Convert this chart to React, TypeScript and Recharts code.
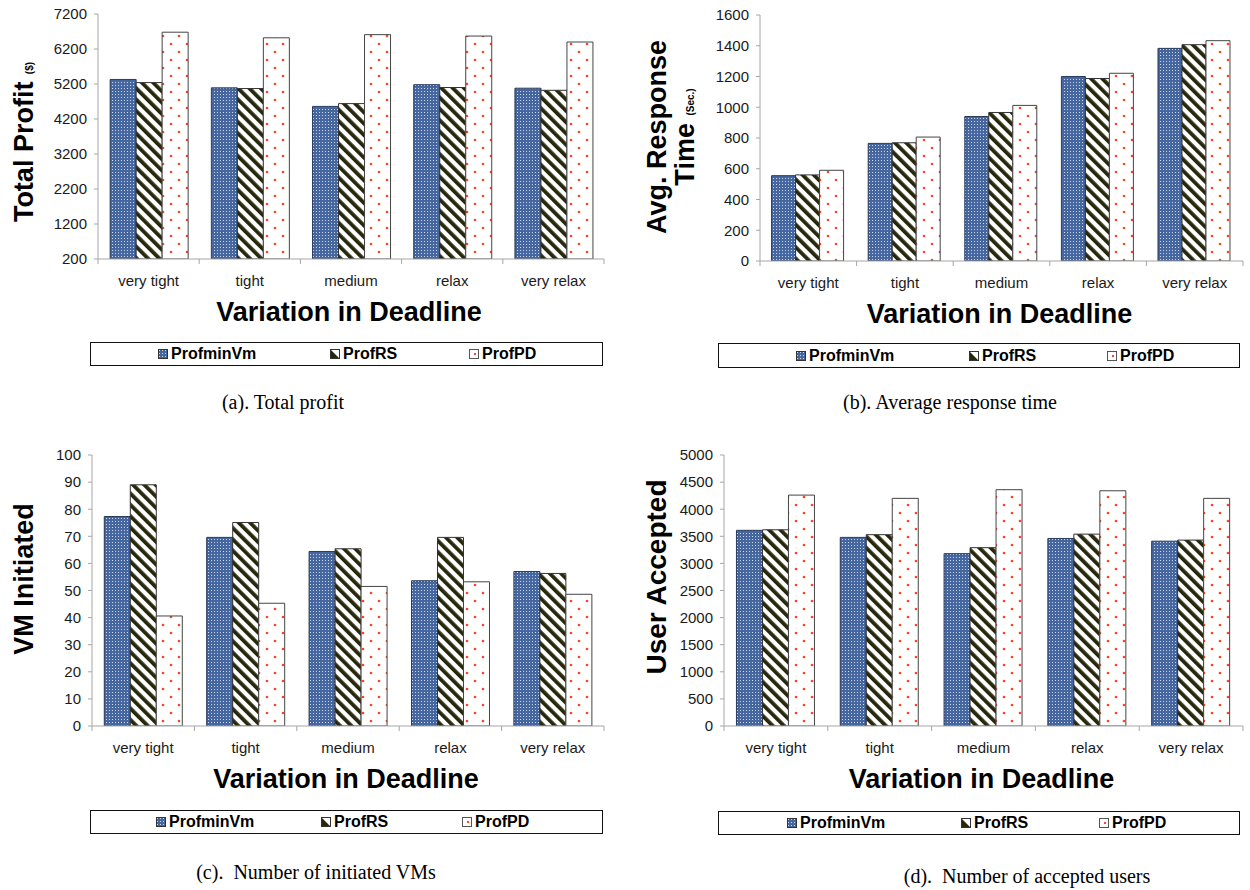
import React from "react";
import { BarChart, Bar, XAxis, YAxis, Label } from "recharts";

const categories = ["very tight", "tight", "medium", "relax", "very relax"];
const seriesNames = ["ProfminVm", "ProfRS", "ProfPD"];

// (a) total profit
const profitMinVm = [5330, 5090, 4560, 5180, 5080];
const profitRS = [5240, 5070, 4640, 5100, 5020];
const profitPD = [6680, 6520, 6610, 6570, 6400];
const profitTicks = [200, 1200, 2200, 3200, 4200, 5200, 6200, 7200];

// (b) avg response time
const respMinVm = [555, 765, 940, 1200, 1383];
const respRS = [560, 769, 966, 1187, 1407];
const respPD = [590, 806, 1012, 1221, 1433];
const respTicks = [0, 200, 400, 600, 800, 1000, 1200, 1400, 1600];

// (c) VMs initiated
const vmMinVm = [77.3, 69.6, 64.4, 53.6, 57.0];
const vmRS = [89.0, 75.1, 65.4, 69.6, 56.3];
const vmPD = [40.6, 45.3, 51.5, 53.2, 48.6];
const vmTicks = [0, 10, 20, 30, 40, 50, 60, 70, 80, 90, 100];

// (d) users accepted
const userMinVm = [3610, 3480, 3180, 3460, 3410];
const userRS = [3620, 3530, 3290, 3540, 3430];
const userPD = [4260, 4200, 4360, 4340, 4200];
const userTicks = [0, 500, 1000, 1500, 2000, 2500, 3000, 3500, 4000, 4500, 5000];

const SANS = "'Liberation Sans', Arial, sans-serif";
const SERIF = "'Liberation Serif', 'Times New Roman', serif";
const AXIS = "#a6a6a6";

type Rect = { l: number; t: number; r: number; b: number };
type TitleLine = { x: number; main: string; small?: string };

type PanelCfg = {
  id: string;
  x0: number;
  y0: number;
  w: number;
  h: number;
  plot: Rect;
  series: number[][];
  ticks: number[];
  title: { cy: number; size: number; lines: TitleLine[] };
  legend: Rect;
  legendOffsets: number[];
  caption: string;
  capX: number;
  capY: number;
};

const panels: PanelCfg[] = [
  {
    id: "pa", x0: 0, y0: 0, w: 625, h: 335,
    plot: { l: 98, t: 14, r: 604, b: 259 },
    series: [profitMinVm, profitRS, profitPD], ticks: profitTicks,
    title: { cy: 142, size: 27, lines: [{ x: 33, main: "Total Profit ", small: "($)" }] },
    legend: { l: 90, t: 342, r: 603, b: 366 }, legendOffsets: [69, 241, 380],
    caption: "(a). Total profit", capX: 283, capY: 403,
  },
  {
    id: "pb", x0: 625, y0: 0, w: 625, h: 335,
    plot: { l: 760, t: 15, r: 1243, b: 261 },
    series: [respMinVm, respRS, respPD], ticks: respTicks,
    title: {
      cy: 137, size: 27,
      lines: [
        { x: 666, main: "Avg. Response" },
        { x: 694, main: "Time ", small: "(Sec.)" },
      ],
    },
    legend: { l: 718, t: 343, r: 1240, b: 368 }, legendOffsets: [79, 252, 390],
    caption: "(b). Average response time", capX: 950, capY: 403,
  },
  {
    id: "pc", x0: 0, y0: 445, w: 625, h: 355,
    plot: { l: 92, t: 455, r: 604, b: 726 },
    series: [vmMinVm, vmRS, vmPD], ticks: vmTicks,
    title: { cy: 579, size: 27, lines: [{ x: 33, main: "VM Initiated" }] },
    legend: { l: 90, t: 810, r: 603, b: 834 }, legendOffsets: [67, 232, 373],
    caption: "(c).  Number of initiated VMs", capX: 316, capY: 873,
  },
  {
    id: "pd", x0: 625, y0: 445, w: 625, h: 355,
    plot: { l: 724, t: 455, r: 1243, b: 726 },
    series: [userMinVm, userRS, userPD], ticks: userTicks,
    title: { cy: 577, size: 28, lines: [{ x: 666, main: "User Accepted" }] },
    legend: { l: 718, t: 811, r: 1240, b: 835 }, legendOffsets: [70, 244, 382],
    caption: "(d).  Number of accepted users", capX: 1027, capY: 877,
  },
];

function Patterns({ id }: { id: string }) {
  return (
    <defs>
      <pattern id={`${id}-blue`} width={3} height={3} patternUnits="userSpaceOnUse">
        <rect width={3} height={3} fill="#45669f" />
        <rect x={1} y={1} width={1} height={1} fill="#c9d6ec" />
      </pattern>
      <pattern id={`${id}-rs`} width={8} height={8} patternUnits="userSpaceOnUse" patternTransform="rotate(-45)">
        <rect width={8} height={8} fill="#ffffff" />
        <rect width={3.8} height={8} fill="#27270c" />
      </pattern>
      <pattern id={`${id}-pd`} width={16} height={16} patternUnits="userSpaceOnUse">
        <rect width={16} height={16} fill="#ffffff" />
        <circle cx={3} cy={4} r={1.35} fill="#ff4426" />
        <circle cx={11} cy={12} r={1.35} fill="#ff4426" />
      </pattern>
    </defs>
  );
}

function Swatch({ i }: { i: number }) {
  if (i === 0) {
    return (
      <svg width={10} height={10} style={{ marginRight: 3 }}>
        <rect x={0.5} y={0.5} width={9} height={9} fill="url(#pa-blue)" stroke="#333" />
      </svg>
    );
  }
  if (i === 1) {
    return (
      <svg width={10} height={10} style={{ marginRight: 3 }}>
        <rect x={0.5} y={0.5} width={9} height={9} fill="#fff" stroke="#333" />
        <path d="M1 1 L9 9 L1 9 Z" fill="#27270c" />
      </svg>
    );
  }
  return (
    <svg width={10} height={10} style={{ marginRight: 3 }}>
      <rect x={0.5} y={0.5} width={9} height={9} fill="#fff" stroke="#555" />
      <rect x={5} y={4} width={2} height={2} fill="#ff4426" />
    </svg>
  );
}

function Panel({ cfg }: { cfg: PanelCfg }) {
  const { id, x0, y0, w, h, plot } = cfg;
  const data = categories.map((cat, i) => ({
    cat,
    minVm: cfg.series[0][i],
    rs: cfg.series[1][i],
    pd: cfg.series[2][i],
  }));
  const band = (plot.r - plot.l) / categories.length;
  const domain = [cfg.ticks[0], cfg.ticks[cfg.ticks.length - 1]];

  const renderTick = (p: any) => {
    const { x, y, payload, index } = p;
    return (
      <g>
        <line x1={x - band / 2} x2={x - band / 2} y1={y} y2={y + 5} stroke={AXIS} />
        {index === categories.length - 1 && (
          <line x1={x + band / 2} x2={x + band / 2} y1={y} y2={y + 5} stroke={AXIS} />
        )}
        <text x={x} y={y + 27} textAnchor="middle" fontSize={15} fill="#1a1a1a" fontFamily={SANS}>
          {payload.value}
        </text>
      </g>
    );
  };

  const renderXTitle = (p: any) => {
    const vb = p.viewBox;
    return (
      <text
        x={vb.x + vb.width / 2 - 2}
        y={vb.y + 62}
        textAnchor="middle"
        fontSize={27}
        fontWeight="bold"
        fontFamily={SANS}
        fill="#000"
      >
        Variation in Deadline
      </text>
    );
  };

  const renderYTitle = () => {
    const cy = cfg.title.cy - y0;
    return (
      <g>
        {cfg.title.lines.map((ln, k) => (
          <text
            key={k}
            transform={`translate(${ln.x - x0} ${cy}) rotate(-90)`}
            textAnchor="middle"
            fontSize={cfg.title.size}
            fontWeight="bold"
            fontFamily={SANS}
            fill="#000"
          >
            {ln.main}
            {ln.small && <tspan fontSize={10}>{ln.small}</tspan>}
          </text>
        ))}
      </g>
    );
  };

  return (
    <>
      <div style={{ position: "absolute", left: x0, top: y0 }}>
        <BarChart
          width={w}
          height={h}
          data={data}
          margin={{ top: plot.t - y0, right: x0 + w - plot.r, left: 0, bottom: 0 }}
          barGap={0}
          barCategoryGap="12%"
        >
          <Patterns id={id} />
          <XAxis
            dataKey="cat"
            height={y0 + h - plot.b}
            interval={0}
            tickSize={0}
            tickMargin={0}
            tick={renderTick}
            axisLine={{ stroke: AXIS }}
            tickLine={false}
          >
            <Label content={renderXTitle} />
          </XAxis>
          <XAxis
            xAxisId="top"
            orientation="top"
            dataKey="cat"
            height={0}
            tick={false}
            tickLine={false}
            axisLine={{ stroke: "#d0d0d0" }}
          />
          <YAxis
            width={plot.l - x0}
            type="number"
            domain={domain}
            ticks={cfg.ticks}
            interval={0}
            allowDataOverflow
            tickSize={4}
            tickMargin={7}
            tick={{ fontSize: 15, fill: "#1a1a1a", fontFamily: SANS }}
            axisLine={{ stroke: AXIS }}
            tickLine={{ stroke: AXIS }}
          >
            <Label content={renderYTitle} />
          </YAxis>
          <YAxis
            yAxisId="right"
            orientation="right"
            width={0}
            tick={false}
            tickLine={false}
            axisLine={{ stroke: "#d0d0d0" }}
          />
          <Bar dataKey="minVm" name={seriesNames[0]} fill={`url(#${id}-blue)`} stroke="#2a3a5a" strokeWidth={1} isAnimationActive={false} />
          <Bar dataKey="rs" name={seriesNames[1]} fill={`url(#${id}-rs)`} stroke="#333" strokeWidth={1} isAnimationActive={false} />
          <Bar dataKey="pd" name={seriesNames[2]} fill={`url(#${id}-pd)`} stroke="#444" strokeWidth={1} isAnimationActive={false} />
        </BarChart>
      </div>
      <div
        style={{
          position: "absolute",
          left: cfg.legend.l,
          top: cfg.legend.t,
          width: cfg.legend.r - cfg.legend.l,
          height: cfg.legend.b - cfg.legend.t,
          border: "1.5px solid #111",
          boxSizing: "border-box",
        }}
      >
        {seriesNames.map((name, i) => (
          <div
            key={name}
            style={{
              position: "absolute",
              left: cfg.legendOffsets[i] - 2,
              top: 0,
              height: "100%",
              display: "flex",
              alignItems: "center",
              fontFamily: SANS,
              fontWeight: "bold",
              fontSize: 16,
              color: "#000",
            }}
          >
            <Swatch i={i} />
            {name}
          </div>
        ))}
      </div>
      <div
        style={{
          position: "absolute",
          left: cfg.capX,
          top: cfg.capY - 12,
          transform: "translateX(-50%)",
          fontFamily: SERIF,
          fontSize: 20,
          whiteSpace: "pre",
          color: "#000",
        }}
      >
        {cfg.caption}
      </div>
    </>
  );
}

export default function App() {
  return (
    <div style={{ position: "absolute", left: 0, top: 0, width: 1250, height: 890, background: "#fff" }}>
      {panels.map((p) => (
        <Panel key={p.id} cfg={p} />
      ))}
    </div>
  );
}
